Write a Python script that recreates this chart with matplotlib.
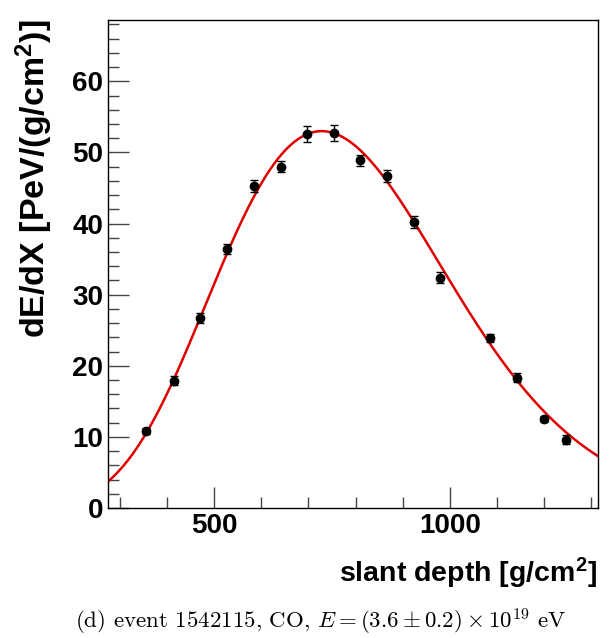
import numpy as np
import matplotlib
matplotlib.use("Agg")
import matplotlib.pyplot as plt
from matplotlib.ticker import MultipleLocator

plt.rcParams['mathtext.fontset'] = 'custom'
plt.rcParams['mathtext.rm'] = 'Liberation Sans:bold'
plt.rcParams['mathtext.bf'] = 'Liberation Sans:bold'
plt.rcParams['mathtext.it'] = 'Liberation Sans:bold'

# data points (slant depth, dE/dX, error)
depth = [356, 415, 470, 527, 585, 642, 698, 754, 810, 866, 924, 979, 1086, 1143, 1199, 1247]
dedx = [10.8, 17.9, 26.7, 36.4, 45.3, 48.0, 52.6, 52.7, 48.9, 46.7, 40.2, 32.4, 23.9, 18.35, 12.5, 9.6]
err = [0.4, 0.6, 0.7, 0.7, 0.8, 0.8, 1.1, 1.1, 0.8, 0.8, 0.8, 0.8, 0.6, 0.6, 0.4, 0.6]

# Gaisser-Hillas fit parameters
gh_xmax = 728.0
gh_emax = 53.0
gh_x0 = -152.0
gh_lambda = 69.0

xlim = (275, 1314)
ylim = (0, 68.7)

fig = plt.figure(figsize=(6.11, 6.38), dpi=100)
ax = fig.add_axes([108/611, 1-508/638, (598-108)/611, (508-19.5)/638])

xc = np.linspace(xlim[0], xlim[1], 600)
w = (gh_xmax - gh_x0) / gh_lambda
yc = gh_emax * ((xc - gh_x0) / (gh_xmax - gh_x0)) ** w * np.exp((gh_xmax - xc) / gh_lambda)
ax.plot(xc, yc, color='#e00000', lw=1.8, zorder=2)

ax.errorbar(depth, dedx, yerr=err, fmt='o', color='black', ms=6, elinewidth=1.0,
            capsize=3, capthick=1.0, zorder=3)

ax.set_xlim(*xlim)
ax.set_ylim(*ylim)
ax.xaxis.set_major_locator(MultipleLocator(500))
ax.xaxis.set_minor_locator(MultipleLocator(100))
ax.yaxis.set_major_locator(MultipleLocator(10))
ax.yaxis.set_minor_locator(MultipleLocator(2))
ax.tick_params(which='both', direction='in', top=False, right=False, color='#444444')
ax.tick_params(which='major', length=15, width=1.0)
ax.tick_params(which='minor', length=8, width=1.0)
ax.tick_params(axis='both', labelsize=20, pad=3.5)
for lab in ax.get_xticklabels() + ax.get_yticklabels():
    lab.set_fontfamily('Liberation Sans')
    lab.set_fontweight('bold')
for s in ax.spines.values():
    s.set_linewidth(1.0)

fig.text(597/611, 1-582/638, r'slant depth [g/cm$^2$]', fontfamily='Liberation Sans',
         fontweight='bold', fontsize=20.5, ha='right', va='baseline')

ax.set_ylabel(r'dE/dX [PeV/(g/cm$^2$)]', fontfamily='Liberation Sans', fontweight='bold',
              fontsize=24.5)
ax.yaxis.set_label_coords((55-108)/490, 1.0)
ax.yaxis.label.set_horizontalalignment('right')

fig.text(321/611, 1-622/638, r'(d) event 1542115, CO, $E = (3.6 \pm 0.2) \times 10^{19}$ eV',
         fontfamily='cmr10', math_fontfamily='cm', fontsize=16.5, ha='center', va='center')

fig.savefig('out.png', dpi=100)
